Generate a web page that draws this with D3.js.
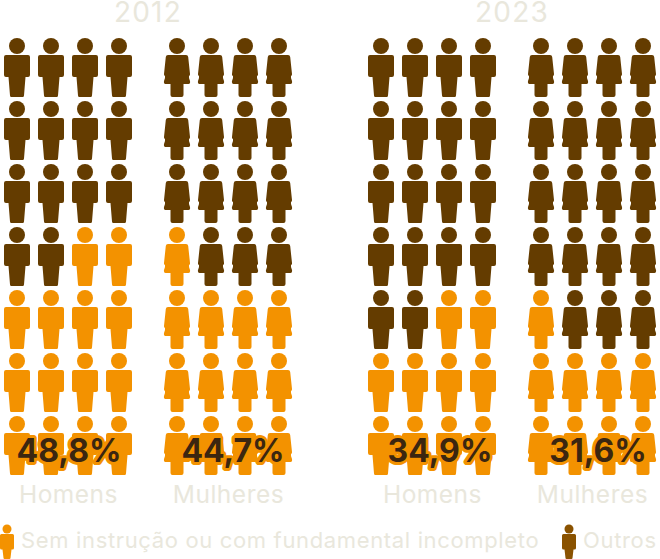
<!DOCTYPE html>
<html>
<head>
<meta charset="utf-8">
<script src="https://cdn.jsdelivr.net/npm/d3@7"></script>
<style>
  body { margin: 0; background: #fff; }
  svg { display: block; }
  text { font-family: Inter, sans-serif; }
</style>
</head>
<body>
<svg id="chart" width="660" height="559"></svg>
<script>
const years = ['2012', '2023'];
const sexes = ['Homens', 'Mulheres'];
const shares = [48.8, 44.7, 34.9, 31.6];
// icons in orange, out of 28
const orangeCounts = [14, 13, 10, 9];
const legendLabels = ['Sem instrução ou com fundamental incompleto', 'Outros'];

const ORANGE = '#f39200';
const BROWN = '#643c00';
const PALE = '#e9e7dc';
const DARK = '#3b2610';

const manBody = 'M-11 9H11Q13 9 13 11V29Q13 31 11 31H8.5L7 49.5Q7 51 5.5 51H-5.5Q-7 51 -7 49.5L-8.5 31H-11Q-13 31 -13 29V11Q-13 9 -11 9Z';
const womanBody = 'M-9 9H9Q11 9 11.2 11L13 28Q13.2 29.5 12 30L12 32L13 35Q13.5 38 11.5 38H6.5V49Q6.5 51 4.5 51H-4.5Q-6.5 51 -6.5 49V38H-11.5Q-13.5 38 -13 35L-12 32L-12 30Q-13.2 29.5 -13 28L-11.2 11Q-11 9 -9 9Z';
const legendBody = 'M-5.5 5H5.5Q7 5 7 6.5V19Q7 20.5 5.5 20.5H4.5L3.5 29Q3.5 30 2.5 30H-2.5Q-3.5 30 -3.5 29L-4.5 20.5H-5.5Q-7 20.5 -7 19V6.5Q-7 5 -5.5 5Z';

const svg = d3.select('#chart');
const rows = d3.range(7);
const cols = d3.range(4);

const sexX = d3.scalePoint().domain(sexes).range([0, 160]);
const colX = d3.scalePoint().domain(cols).range([17, 119]);
const rowY = d3.scalePoint().domain(rows).range([46, 424]);

const panels = d3.cross(years, sexes).map(([year, sex], i) => ({
  year, sex, share: shares[i], orange: orangeCounts[i], index: i,
}));

function panelX(d) {
  return (d.year === '2023' ? 364 : 0) + sexX(d.sex);
}

function isOrange(d, row, col) {
  const fromBottom = (6 - row) * 4;
  const rest = d.orange - fromBottom;
  if (rest <= 0) return false;
  if (rest >= 4) return true;
  // men fill their partial row from the right, women from the left
  return d.sex === 'Homens' ? col >= 4 - rest : col < rest;
}

function drawIcon(g, x, y, color, body) {
  const icon = g.append('g').attr('transform', `translate(${x},${y})`).attr('fill', color);
  icon.append('circle').attr('r', 8);
  icon.append('path').attr('d', body);
}

svg.selectAll('text.year')
  .data(years)
  .enter()
  .append('text')
  .attr('class', 'year')
  .attr('x', d => (d === '2023' ? 512 : 148))
  .attr('y', 22)
  .attr('text-anchor', 'middle')
  .attr('font-size', 28)
  .attr('letter-spacing', 1.2)
  .attr('fill', PALE)
  .text(d => d);

const panel = svg.selectAll('g.panel')
  .data(panels)
  .enter()
  .append('g')
  .attr('class', 'panel')
  .attr('transform', d => `translate(${panelX(d)},0)`);

panel.each(function (d) {
  const g = d3.select(this);
  rows.forEach((row) => {
    cols.forEach((col) => {
      drawIcon(g, colX(col), rowY(row), isOrange(d, row, col) ? ORANGE : BROWN,
        d.sex === 'Homens' ? manBody : womanBody);
    });
  });
});

// the share labels do not sit quite centred on their panels
const labelX = [69, 73, 76, 74];
panel.append('text')
  .attr('x', d => labelX[d.index])
  .attr('y', 462)
  .attr('text-anchor', 'middle')
  .attr('font-size', 32)
  .attr('font-weight', 700)
  .attr('fill', DARK)
  .attr('stroke', ORANGE)
  .attr('stroke-width', 6)
  .attr('stroke-linejoin', 'round')
  .attr('paint-order', 'stroke')
  .text(d => `${String(d.share).replace('.', ',')}%`);

panel.append('text')
  .attr('x', 68.5)
  .attr('y', 502.5)
  .attr('text-anchor', 'middle')
  .attr('font-size', 24.5)
  .attr('letter-spacing', 0.5)
  .attr('fill', PALE)
  .text(d => d.sex);

// legend
[[7, ORANGE, 21], [569, '#8a5200', 583]].forEach(([x, color, textX], i) => {
  const g = svg.append('g');
  const icon = g.append('g').attr('transform', `translate(${x},529)`).attr('fill', color);
  icon.append('circle').attr('r', 4.5);
  icon.append('path').attr('d', legendBody);
  g.append('text')
    .attr('x', textX)
    .attr('y', 548)
    .attr('font-size', 22)
    .attr('letter-spacing', 0.65)
    .attr('fill', PALE)
    .text(legendLabels[i]);
});
</script>
</body>
</html>
